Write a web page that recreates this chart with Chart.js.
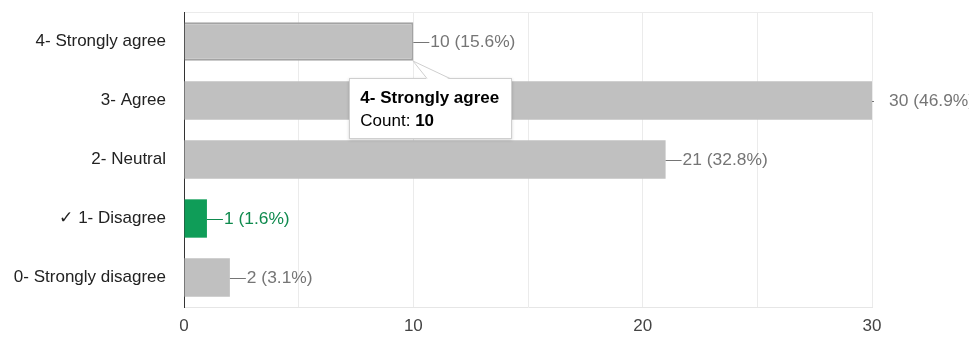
<!DOCTYPE html>
<html>
<head>
<meta charset="utf-8">
<script src="https://cdn.jsdelivr.net/npm/chart.js@4/dist/chart.umd.min.js"></script>
<style>
  html, body { margin: 0; padding: 0; background: #fff; }
  #wrap { position: relative; width: 969px; height: 337px; overflow: hidden; }
  #tip {
    position: absolute; display: none; box-sizing: border-box;
    width: 163px; height: 61px; padding: 7px 10px;
    background: #fff; border: 1px solid #cfcfcf;
    box-shadow: 0 1px 3px rgba(0,0,0,0.18);
    font: 17px "Liberation Sans", Arial, sans-serif; line-height: 23px; color: #000;
  }
  #tail { position: absolute; overflow: visible; display: none; }
</style>
</head>
<body>
<div id="wrap">
  <canvas id="chart" width="969" height="337"></canvas>
  <div id="tip"></div>
  <svg id="tail" width="40" height="20"></svg>
</div>
<script>
const categories = [
  "4- Strongly agree",
  "3- Agree",
  "2- Neutral",
  "\u2713 1- Disagree",
  "0- Strongly disagree"
];
const counts = [10, 30, 21, 1, 2];
const barColors = ["#c0c0c0", "#c0c0c0", "#c0c0c0", "#0f9d58", "#c0c0c0"];
const labelColors = ["#757575", "#757575", "#757575", "#0f8a4e", "#757575"];
const xTicks = [0, 10, 20, 30];

const total = counts.reduce((a, b) => a + b, 0);

Chart.defaults.font.family = '"Liberation Sans", Arial, sans-serif';
Chart.defaults.font.size = 17;

// leader line + "n (p%)" to the right of each bar
const valueLabels = {
  id: "valueLabels",
  afterDatasetsDraw(chart) {
    const ctx = chart.ctx;
    const area = chart.chartArea;
    chart.getDatasetMeta(0).data.forEach((bar, i) => {
      const pct = (counts[i] / total * 100).toFixed(1);
      ctx.save();
      ctx.strokeStyle = labelColors[i];
      ctx.lineWidth = 1;
      ctx.beginPath();
      ctx.rect(area.left, 0, area.right - area.left + 2, chart.height);
      ctx.clip();
      ctx.beginPath();
      ctx.moveTo(bar.x, Math.round(bar.y) + 0.5);
      ctx.lineTo(bar.x + 16, Math.round(bar.y) + 0.5);
      ctx.stroke();
      ctx.restore();

      ctx.save();
      ctx.fillStyle = labelColors[i];
      ctx.font = '17.4px "Liberation Sans", Arial, sans-serif';
      ctx.textBaseline = "middle";
      ctx.textAlign = "left";
      ctx.fillText(counts[i] + " (" + pct + "%)", bar.x + 17, bar.y + 1);
      ctx.restore();
    });
  }
};

function externalTip(context) {
  const tooltip = context.tooltip;
  const box = document.getElementById("tip");
  const tail = document.getElementById("tail");
  if (tooltip.opacity === 0 || !tooltip.dataPoints || !tooltip.dataPoints.length) {
    box.style.display = "none";
    tail.style.display = "none";
    return;
  }
  const dp = tooltip.dataPoints[0];
  const el = dp.element;
  const tipX = el.x;
  const tipY = el.y + el.height / 2;
  box.innerHTML = "<b>" + dp.label + "</b><br>Count: <b>" + dp.raw + "</b>";
  box.style.left = (tipX - 64) + "px";
  box.style.top = (tipY + 17) + "px";
  box.style.display = "block";

  tail.style.left = tipX + "px";
  tail.style.top = tipY + "px";
  tail.innerHTML =
    '<polygon points="0,0 14,18.5 37,18.5" fill="#fff" stroke="none"/>' +
    '<polyline points="14,17.5 0,0 37,17.5" fill="none" stroke="#cfcfcf" stroke-width="1"/>';
  tail.style.display = "block";
}

const chart = new Chart(document.getElementById("chart"), {
  type: "bar",
  data: {
    labels: categories,
    datasets: [{
      data: counts,
      backgroundColor: barColors,
      hoverBackgroundColor: barColors,
      borderWidth: 0,
      hoverBorderWidth: 2,
      hoverBorderColor: "#a3a3a3",
      categoryPercentage: 1,
      barPercentage: 0.65
    }]
  },
  plugins: [valueLabels],
  options: {
    indexAxis: "y",
    responsive: false,
    animation: false,
    events: [],
    layout: { padding: { left: 0, right: 97, top: 12, bottom: 0 } },
    plugins: {
      legend: { display: false },
      tooltip: { enabled: false, external: externalTip, position: "nearest" }
    },
    scales: {
      x: {
        min: 0,
        max: 30,
        afterFit: s => { s.height = 30; s.paddingLeft = 0; s.paddingRight = 0; },
        afterBuildTicks: s => {
          s.ticks = [0, 5, 10, 15, 20, 25, 30].map(v => ({ value: v }));
        },
        ticks: {
          color: "#444",
          padding: 9,
          maxRotation: 0,
          callback: v => (xTicks.includes(v) ? String(v) : "")
        },
        grid: {
          drawTicks: false,
          color: c => (c.index === 0 ? "transparent" : "#ebebeb")
        },
        border: { color: "#e6e6e6" }
      },
      y: {
        afterFit: s => { s.width = 184; s.paddingTop = 0; s.paddingBottom = 0; },
        ticks: { color: "#222", padding: 18 },
        grid: {
          drawTicks: false,
          color: c => (c.index === 0 ? "#ebebeb" : "transparent")
        },
        border: { color: "#333", width: 1 }
      }
    }
  }
});

const active = [{ datasetIndex: 0, index: 0 }];
chart.setActiveElements(active);
const b0 = chart.getDatasetMeta(0).data[0];
chart.tooltip.setActiveElements(active, { x: b0.x, y: b0.y });
chart.update();
</script>
</body>
</html>
